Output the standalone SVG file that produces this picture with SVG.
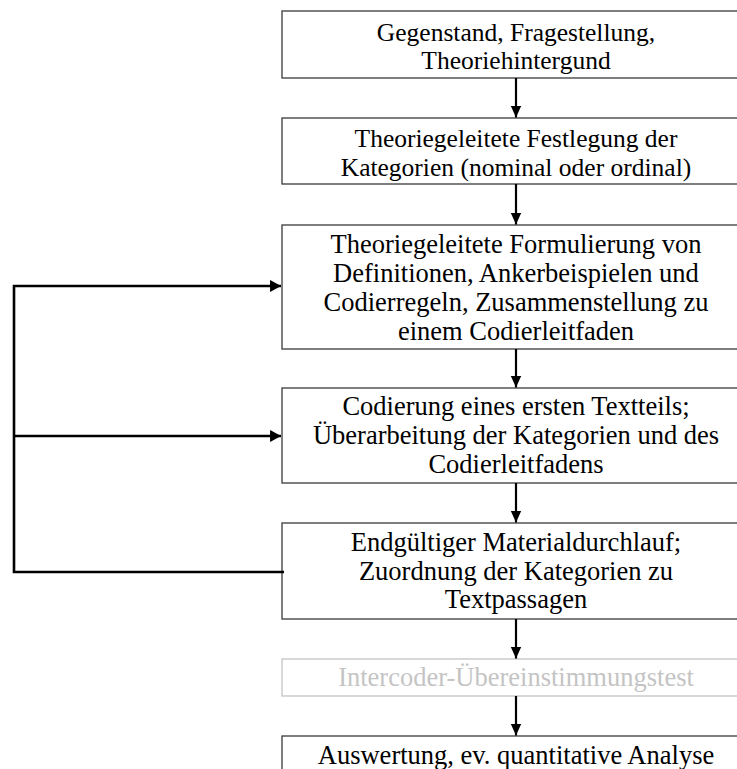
<svg xmlns="http://www.w3.org/2000/svg" width="737" height="769" viewBox="0 0 737 769">
<style>
.box{fill:#fff;stroke:#3a3a3a;stroke-width:1.3}
.gbox{fill:#fff;stroke:#c4c4c4;stroke-width:1.3}
.t{font-family:"Liberation Serif","Times New Roman",serif;font-size:26.5px;fill:#000;text-anchor:middle}
.s{font-size:25.5px}
.gt{fill:#c4c4c4}
.c{fill:none;stroke:#000;stroke-width:2.2}
.fb{fill:none;stroke:#000;stroke-width:2.6}
</style>
<defs>
<marker id="ah" markerUnits="userSpaceOnUse" markerWidth="12" markerHeight="12" viewBox="0 0 10 10" refX="10" refY="5" orient="auto">
<path d="M0,0.5 L10,5 L0,9.5 Z" fill="#000"/>
</marker>
<marker id="ah2" markerUnits="userSpaceOnUse" markerWidth="11" markerHeight="12" viewBox="0 0 10 11" refX="10" refY="5.5" orient="auto">
<path d="M0,0 L10,5.5 L0,11 Z" fill="#000"/>
</marker>
</defs>
<g id="n1">
<rect class="box" x="282" y="11" width="470" height="67"/>
<text class="t s" x="516" y="40.5"><tspan x="516" y="40.5">Gegenstand, Fragestellung,</tspan><tspan x="516" y="69">Theoriehintergund</tspan></text>
</g>
<g id="n2">
<rect class="box" x="282" y="118" width="470" height="66"/>
<text class="t s" x="516" y="147"><tspan x="516" y="147">Theoriegeleitete Festlegung der</tspan><tspan x="516" y="175.5">Kategorien (nominal oder ordinal)</tspan></text>
</g>
<g id="n3">
<rect class="box" x="282" y="225" width="470" height="124"/>
<text class="t" x="516" y="252.5"><tspan x="516" y="252.5">Theoriegeleitete Formulierung von</tspan><tspan x="516" y="281.5">Definitionen, Ankerbeispielen und</tspan><tspan x="516" y="310.5">Codierregeln, Zusammenstellung zu</tspan><tspan x="516" y="339.5">einem Codierleitfaden</tspan></text>
</g>
<g id="n4">
<rect class="box" x="282" y="388" width="470" height="95"/>
<text class="t" x="516" y="415"><tspan x="516" y="415">Codierung eines ersten Textteils;</tspan><tspan x="516" y="444">Überarbeitung der Kategorien und des</tspan><tspan x="516" y="473">Codierleitfadens</tspan></text>
</g>
<g id="n5">
<rect class="box" x="282" y="523" width="470" height="96"/>
<text class="t" x="516" y="550.5"><tspan x="516" y="550.5">Endgültiger Materialdurchlauf;</tspan><tspan x="516" y="579.5">Zuordnung der Kategorien zu</tspan><tspan x="516" y="608">Textpassagen</tspan></text>
</g>
<g id="n6">
<rect class="gbox" x="282" y="659" width="470" height="37"/>
<text class="t gt" x="516" y="686">Intercoder-Übereinstimmungstest</text>
</g>
<g id="n7">
<rect class="box" x="282" y="736" width="470" height="50"/>
<text class="t" x="516" y="764">Auswertung, ev. quantitative Analyse</text>
</g>
<g id="connectors">
<line class="c" x1="516" y1="78" x2="516" y2="117.5" marker-end="url(#ah)"/>
<line class="c" x1="516" y1="184" x2="516" y2="224.5" marker-end="url(#ah)"/>
<line class="c" x1="516" y1="349" x2="516" y2="387.5" marker-end="url(#ah)"/>
<line class="c" x1="516" y1="483" x2="516" y2="522.5" marker-end="url(#ah)"/>
<line class="c" x1="516" y1="619" x2="516" y2="658.5" marker-end="url(#ah)"/>
<line class="c" x1="516" y1="696" x2="516" y2="735.5" marker-end="url(#ah)"/>
<path class="fb" d="M284,572 L14,572 L14,286 L281,286" marker-end="url(#ah2)"/>
<line class="fb" x1="14" y1="436" x2="281" y2="436" marker-end="url(#ah2)"/>
</g>
</svg>
